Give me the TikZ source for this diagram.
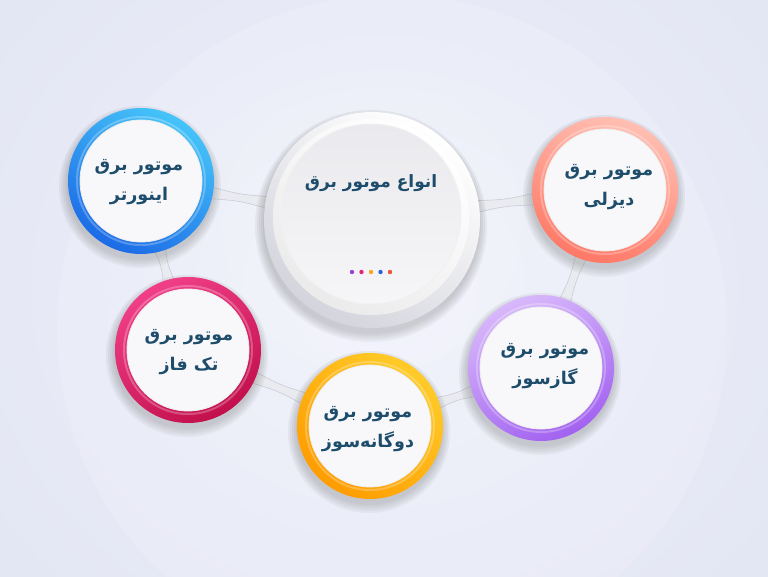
\documentclass[tikz,border=0pt]{standalone}
\usepackage{fontspec}
\newfontfamily\arabicfont[Script=Arabic]{DejaVu Sans}
\TeXXeTstate=1
\usetikzlibrary{calc}
\pgfdeclarelayer{bglayer}
\pgfsetlayers{bglayer,main}
\definecolor{bgc}{HTML}{E3E6F3}
\definecolor{glow}{HTML}{F0F2FC}
\definecolor{txt}{HTML}{1E4D6B}
\definecolor{connfill}{HTML}{EAEBF0}
\definecolor{connline}{HTML}{C9CCD7}
\definecolor{faceA}{HTML}{EAEAEE}
\definecolor{faceB}{HTML}{F6F6F8}
\definecolor{facew}{HTML}{F8F8FA}
\definecolor{rimB}{HTML}{D3D4DC}
\definecolor{shade}{HTML}{5A6080}
\definecolor{blueA}{HTML}{45C4F9}
\definecolor{blueB}{HTML}{1C6BE6}
\definecolor{pinkA}{HTML}{F03E88}
\definecolor{pinkB}{HTML}{C2104C}
\definecolor{orangeA}{HTML}{FFCB28}
\definecolor{orangeB}{HTML}{FF9C00}
\definecolor{purpleA}{HTML}{D8B8FB}
\definecolor{purpleB}{HTML}{A262F0}
\definecolor{salmonA}{HTML}{FFBFB2}
\definecolor{salmonB}{HTML}{FF7866}
\definecolor{dotA}{HTML}{9B3FE0}
\definecolor{dotB}{HTML}{E0247A}
\definecolor{dotC}{HTML}{F5A623}
\definecolor{dotD}{HTML}{2A62D8}
\definecolor{dotE}{HTML}{F0533A}
\newcommand\linkbar[2]{%
  \begin{pgfonlayer}{bglayer}
  \path (#1) -- (#2) coordinate[pos=0] (ls) coordinate[pos=1] (le);
  \coordinate (s0) at ($(ls)!-8pt!(le)$);
  \coordinate (e0) at ($(le)!-8pt!(ls)$);
  \coordinate (m0) at ($(s0)!0.5!(e0)$);
  \fill[connfill, draw=connline, line width=0.6pt]
    ($(s0)!6.5pt!90:(e0)$) .. controls ($(m0)!3pt!90:(e0)$) .. ($(e0)!6.5pt!-90:(s0)$)
    -- ($(e0)!6.5pt!90:(s0)$) .. controls ($(m0)!3pt!-90:(e0)$) .. ($(s0)!6.5pt!-90:(e0)$) -- cycle;
  \end{pgfonlayer}}
% soft shadow: centre x, y, radius
\newcommand\softshadow[3]{%
  \foreach \k in {8,6,4,2,0}{%
    \fill[shade, opacity=0.035] (#1-1,#2+6) circle[radius=#3+\k];}}
\begin{document}
\begin{tikzpicture}[x=1pt,y=-1pt,
  ring/.style={circle, inner sep=0pt, minimum size=146pt},
  face/.style={circle, inner sep=0pt, minimum size=122pt, fill=facew,
    draw=black!7, line width=0.8pt},
  lip/.style={circle, inner sep=0pt, minimum size=128pt, draw=white, draw opacity=0.25, line width=2pt},
  lbl/.style={font=\arabicfont\bfseries\fontsize{17.5}{30}\selectfont, text=txt, align=center},
  ttl/.style={font=\arabicfont\bfseries\fontsize{17}{30}\selectfont, text=txt},
  dot/.style={circle, inner sep=0pt, minimum size=4.4pt}]
\useasboundingbox (0,0) rectangle (768,576);
\begin{pgfonlayer}{bglayer}
\shade[inner color=glow, outer color=bgc] (-100,-150) rectangle (868,726);
\fill[white, opacity=0.13] (392,330) circle[radius=335];
\fill[white, opacity=0.10] (372,225) circle[radius=150];
\end{pgfonlayer}
% shadows
\softshadow{372}{220}{108}
\softshadow{141}{181}{73}
\softshadow{188}{350}{73}
\softshadow{370}{426}{73}
\softshadow{541}{368}{73}
\softshadow{605}{190}{73}
% centre
\node[circle, inner sep=0pt, minimum size=216pt, top color=white, bottom color=rimB, shading angle=-35] (ctr) at (372,220) {};
\node[circle, inner sep=0pt, minimum size=196pt, top color=white, bottom color=white!92!black, shading angle=-35] (ctrlip) at (371,217) {};
\node[circle, inner sep=0pt, minimum size=180pt, top color=faceA, bottom color=faceB, draw=black!6, line width=1pt] (ctrface) at (371,214) {};
\node[ttl] (title) at (371,183) {\beginR انواع موتور برق\endR};
\node[dot, fill=dotA] (d1) at (352,272) {};
\node[dot, fill=dotB] (d2) at (361.5,272) {};
\node[dot, fill=dotC] (d3) at (371,272) {};
\node[dot, fill=dotD] (d4) at (380.5,272) {};
\node[dot, fill=dotE] (d5) at (390,272) {};
% inverter (blue)
\node[ring, top color=blueA, bottom color=blueB, shading angle=-30] (inv) at (141,181) {};
\node[lip] at (inv) {};
\node[face] at (inv) {};
\node[lbl] (invt) at (139,182) {\beginR موتور برق\endR\\\beginR اینورتر\endR};
% single phase (pink)
\node[ring, top color=pinkA, bottom color=pinkB, shading angle=30] (tak) at (188,350) {};
\node[lip] at (tak) {};
\node[face] at (tak) {};
\node[lbl] (takt) at (189,352) {\beginR موتور برق\endR\\\beginR تک فاز\endR};
% dual fuel (orange)
\node[ring, top color=orangeA, bottom color=orangeB, shading angle=-40] (dog) at (370,426) {};
\node[lip] at (dog) {};
\node[face] at (dog) {};
\node[lbl] (dogt) at (368,429) {\beginR موتور برق\endR\\\beginR دوگانه‌سوز\endR};
% gas (purple)
\node[ring, top color=purpleA, bottom color=purpleB, shading angle=25] (gaz) at (541,368) {};
\node[lip] at (gaz) {};
\node[face] at (gaz) {};
\node[lbl] (gazt) at (545,366) {\beginR موتور برق\endR\\\beginR گازسوز\endR};
% diesel (salmon)
\node[ring, top color=salmonA, bottom color=salmonB, shading angle=-20] (dis) at (605,190) {};
\node[lip] at (dis) {};
\node[face] at (dis) {};
\node[lbl] (dist) at (609,187) {\beginR موتور برق\endR\\\beginR دیزلی\endR};
% connectors
\linkbar{inv}{ctr}
\linkbar{ctr}{dis}
\linkbar{dis}{gaz}
\linkbar{inv}{tak}
\linkbar{tak}{dog}
\linkbar{dog}{gaz}
\end{tikzpicture}
\end{document}
